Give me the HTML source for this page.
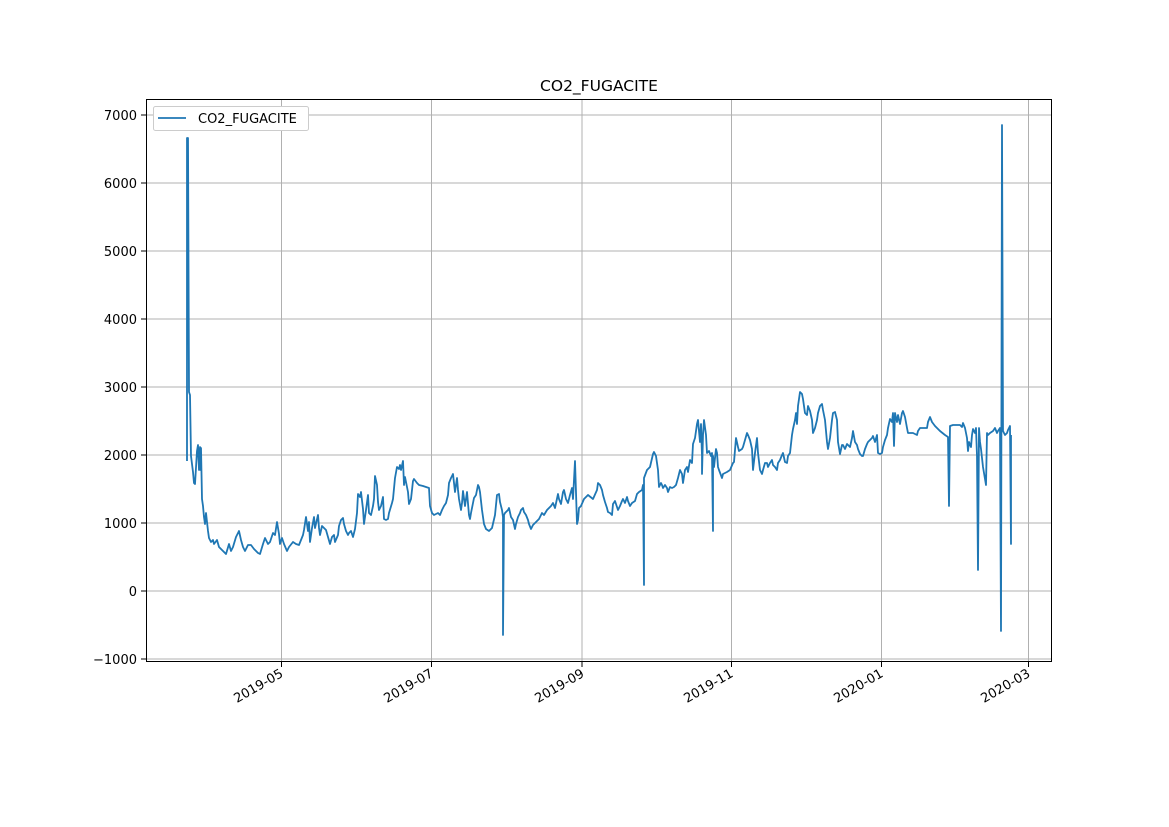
<!DOCTYPE html>
<html><head><meta charset="utf-8"><style>body{margin:0;background:#fff}svg{display:block}text{font-family:"DejaVu Sans","Liberation Sans",sans-serif;font-size:13px;fill:#000}</style></head><body>
<svg width="1169" height="827" xmlns="http://www.w3.org/2000/svg">
<rect width="1169" height="827" fill="#fff"/>
<g stroke="#b0b0b0" stroke-width="1">
<line x1="281.5" y1="99" x2="281.5" y2="662"/><line x1="431.5" y1="99" x2="431.5" y2="662"/><line x1="582" y1="99" x2="582" y2="662"/><line x1="731.5" y1="99" x2="731.5" y2="662"/><line x1="881.5" y1="99" x2="881.5" y2="662"/><line x1="1028.5" y1="99" x2="1028.5" y2="662"/>
<line x1="146" y1="115" x2="1052" y2="115"/><line x1="146" y1="183" x2="1052" y2="183"/><line x1="146" y1="251" x2="1052" y2="251"/><line x1="146" y1="319" x2="1052" y2="319"/><line x1="146" y1="387" x2="1052" y2="387"/><line x1="146" y1="455" x2="1052" y2="455"/><line x1="146" y1="523" x2="1052" y2="523"/><line x1="146" y1="591" x2="1052" y2="591"/><line x1="146" y1="659" x2="1052" y2="659"/>
</g>
<polyline fill="none" stroke="#1f77b4" stroke-width="1.8" stroke-linejoin="round" points="187,461 187,138 188,138 189,392 190,395 191,456 193,472 194,483 195,484 197,451 198,445 199,470 200,447 200.5,470 201,448 202,499 203,506 204,517 205,524 206,513 208,531 209,538 211,542 213,540 214,544 217,540 219,547 223,551 226,554 229,544 231,551 233,547 236,537 239,531 241,540 243,547 245,551 248,545 251,545 254,549 258,553 260,554 263,544 265,538 268,544 270,542 273,533 275,535 277,522 279,534 280,544 282,538 284,544 287,551 289,547 293,542 296,544 299,545 301,540 303,535 304,530 306,517 308,531 309,522 310,542 312,528 314,517 315,528 318,515 319,528 320,535 322,526 324,528 326,530 328,537 330,544 332,537 334,535 335,542 338,535 339,526 341,520 343,518 344,524 346,531 348,535 349,533 351,531 353,537 355,529 357,513 358,494 360,497 361,492 363,509 364,524 366,510 368,495 369,513 371,515 373,506 374,499 375,476 377,485 378,502 379,510 381,506 383,497 384,519 386,520 388,519 389,513 392,503 393,499 395,478 397,467 399,469 400,465 401,470 403,461 404,485 405,477 408,492 409,504 411,499 413,481 414,479 417,483 419,485 423,486 426,487 429,488 430,506 432,513 434,515 438,513 440,515 442,510 444,506 446,503 448,495 449,483 451,478 453,474 454,483 455,492 457,478 458,490 459,499 461,510 462,503 463,491 465,506 467,492 469,515 470,519 471,513 473,503 474,498 476,495 478,485 479,487 480,492 482,510 484,524 486,529 489,531 492,528 495,515 497,495 499,494 500,502 502,510 503,517 503,635 504,515 505,513 508,510 509,508 511,517 513,520 515,529 516,524 518,517 520,513 521,510 523,508 524,512 526,515 528,520 529,524 531,529 533,525 536,522 539,519 542,513 544,515 547,510 551,506 553,503 555,508 558,494 559,499 561,504 563,492 564,490 566,499 568,503 570,495 572,488 573,499 575,461 577,524 578,520 579,508 581,506 584,499 588,495 593,499 597,490 598,483 600,485 602,490 603,495 605,502 607,508 608,512 610,513 612,515 613,504 615,501 617,507 618,510 620,506 622,501 623,499 625,503 627,497 628,501 630,506 632,503 635,501 637,494 639,492 642,490 643,485 644,585 644,478 647,470 650,467 653,454 654,452 656,456 658,470 659,487 661,483 662,485 663,488 665,485 667,488 668,492 670,487 672,488 674,487 676,485 678,478 680,470 682,474 683,483 685,470 687,467 688,472 690,460 692,463 693,444 695,438 697,424 698,420 700,442 701,424 702,456 702,474 703,435 704,420 706,435 707,453 709,451 711,456 712,453 713,531 713,456 714,467 716,449 717,453 718,467 719,470 722,478 723,474 727,472 730,470 733,463 734,462 736,438 738,447 739,451 742,449 743,447 745,440 747,433 748,435 750,440 752,449 753,470 755,453 757,438 758,453 760,470 762,474 763,470 765,463 767,463 768,467 770,463 772,460 773,465 775,467 777,470 778,463 780,460 782,455 783,453 785,462 787,463 788,456 790,453 792,435 793,429 795,420 796,413 797,424 798,406 800,392 802,394 803,399 805,413 807,415 808,406 810,411 812,420 813,433 815,428 817,420 818,413 820,406 822,404 823,410 825,420 827,442 828,449 830,438 832,420 833,413 835,412 837,420 838,442 840,454 842,445 843,445 845,449 847,444 848,445 850,447 852,438 853,431 855,442 857,445 858,449 860,454 862,456 863,456 865,449 867,444 868,442 870,440 872,438 873,436 875,442 877,435 878,453 880,454 882,453 883,447 885,440 887,435 888,428 890,419 892,422 893,413 894,446 895,413 897,422 898,415 900,424 902,413 903,411 905,417 907,428 908,433 910,433 913,433 917,435 918,431 920,428 923,428 927,428 928,422 930,417 932,422 935,426 940,431 945,435 948,437 949,506 950,426 953,425 957,425 960,425 962,427 963,423 965,428 967,438 968,451 969,442 971,447 972,435 973,429 975,433 976,428 977,456 978,570 979,428 980,442 981,449 983,467 986,485 987,433 988,435 990,433 993,431 995,428 997,433 998,431 1000,428 1001,631 1002,125 1003,431 1005,435 1007,433 1008,430 1010,426 1011,544 1011,435"/>
<rect x="146.5" y="99.5" width="905" height="562" fill="none" stroke="#000" stroke-width="1"/>
<g stroke="#000"><line x1="141" y1="115" x2="146" y2="115"/><line x1="141" y1="183" x2="146" y2="183"/><line x1="141" y1="251" x2="146" y2="251"/><line x1="141" y1="319" x2="146" y2="319"/><line x1="141" y1="387" x2="146" y2="387"/><line x1="141" y1="455" x2="146" y2="455"/><line x1="141" y1="523" x2="146" y2="523"/><line x1="141" y1="591" x2="146" y2="591"/><line x1="141" y1="659" x2="146" y2="659"/>
<line x1="281.5" y1="662" x2="281.5" y2="667"/><line x1="431.5" y1="662" x2="431.5" y2="667"/><line x1="582" y1="662" x2="582" y2="667"/><line x1="731.5" y1="662" x2="731.5" y2="667"/><line x1="881.5" y1="662" x2="881.5" y2="667"/><line x1="1028.5" y1="662" x2="1028.5" y2="667"/></g>
<g text-anchor="end"><text x="137" y="120">7000</text><text x="137" y="188">6000</text><text x="137" y="256">5000</text><text x="137" y="324">4000</text><text x="137" y="392">3000</text><text x="137" y="460">2000</text><text x="137" y="528">1000</text><text x="137" y="596">0</text><text x="137" y="664">−1000</text>
<text transform="translate(284,676) rotate(-30)">2019-05</text><text transform="translate(434,676) rotate(-30)">2019-07</text><text transform="translate(585,676) rotate(-30)">2019-09</text><text transform="translate(734,676) rotate(-30)">2019-11</text><text transform="translate(884,676) rotate(-30)">2020-01</text><text transform="translate(1031,676) rotate(-30)">2020-03</text></g>
<text x="599" y="91" text-anchor="middle" style="font-size:15.5px">CO2_FUGACITE</text>
<rect x="153.5" y="106.5" width="155" height="24" rx="2" fill="#fff" stroke="#ccc"/>
<line x1="158" y1="118" x2="186" y2="118" stroke="#1f77b4" stroke-width="1.8"/>
<text x="198" y="123">CO2_FUGACITE</text>
</svg>
</body></html>
